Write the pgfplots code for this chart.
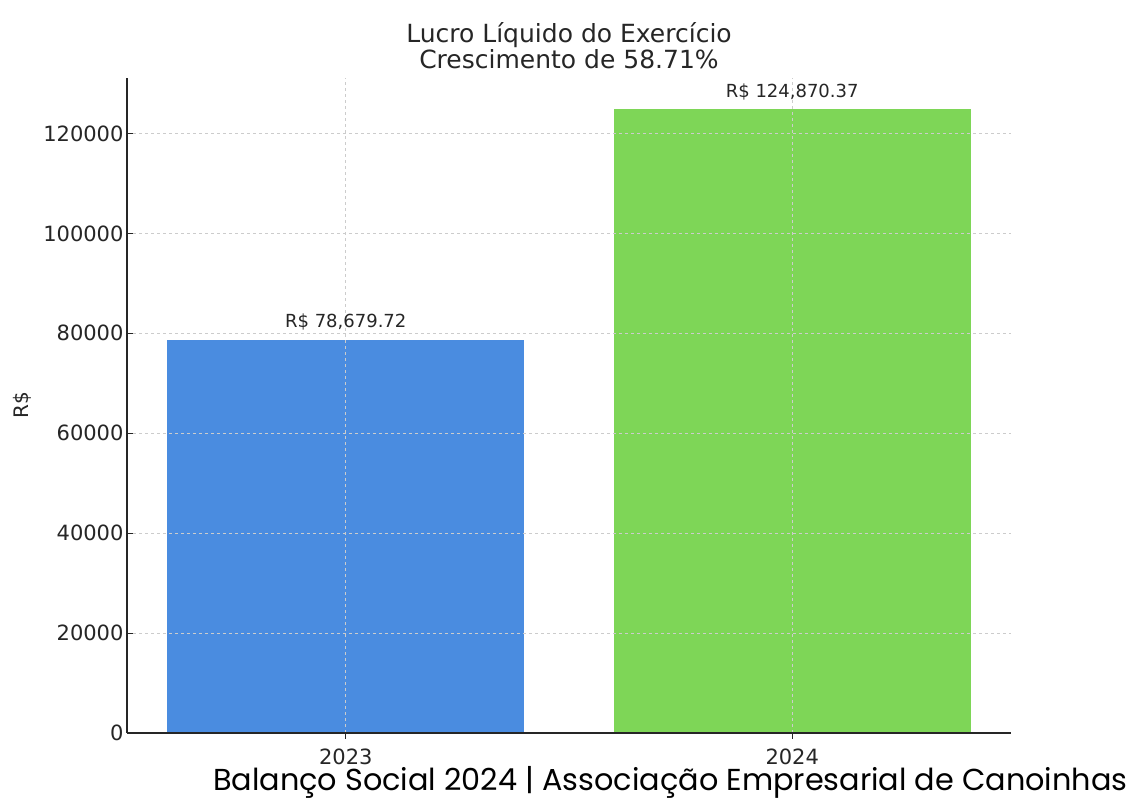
\documentclass[border=0pt]{standalone}
\usepackage{fontspec}
\setmainfont{DejaVu Sans}
\newfontfamily\poppins{Poppins}
\usepackage{pgfplots}
\pgfplotsset{compat=1.18}
\definecolor{barblue}{HTML}{4A8CE0}
\definecolor{bargreen}{HTML}{7ED657}
\definecolor{gridc}{HTML}{CCCCCC}
\begin{document}
\begin{tikzpicture}[x=1pt,y=1pt]
\useasboundingbox (0,0) rectangle (1133,800);
\fill[white] (0,0) rectangle (1133,800);
\begin{axis}[
  at={(127pt,67pt)}, anchor=south west,
  scale only axis, width=884pt, height=655pt,
  xmin=-0.49, xmax=1.49, ymin=0, ymax=131114,
  xtick={0,1}, xticklabels={2023,2024},
  ytick={0,20000,40000,60000,80000,100000,120000},
  scaled y ticks=false,
  /pgf/number format/fixed,
  /pgf/number format/1000 sep={},
  /pgf/number format/assume math mode=true,
  tick label style={font=\fontsize{21}{25}\selectfont, text=black!85},
  axis x line*=bottom, axis y line*=left,
  axis line style={black!85, line width=1.3pt},
  tick style={black!85, line width=1pt},
  major tick length=6pt,
  tick align=inside,
  grid=major,
  major grid style={gridc, dashed, line width=0.8pt},
  axis on top,
  ylabel={R\$},
  ylabel style={font=\fontsize{20}{23}\selectfont, text=black!85, at={(axis description cs:0,0.5)}, anchor=south, yshift=92pt},
  xticklabel style={yshift=-6pt},
  nodes near coords,
  nodes near coords style={font=\fontsize{18}{21}\selectfont, text=black!85, anchor=south, yshift=6pt},
  point meta=explicit symbolic,
  ybar, bar width=0.8, bar shift=0pt,
  clip=false,
]
\addplot[fill=barblue, draw=none] coordinates {(0,78679.72) [R\$ 78,679.72]};
\addplot[fill=bargreen, draw=none] coordinates {(1,124870.37) [R\$ 124,870.37]};
\end{axis}
\node[font=\fontsize{25}{26}\selectfont, text=black!85, align=center] at (569,754) {Lucro Líquido do Exercício\\Crescimento de 58.71\%};
\node[font=\poppins\fontsize{30.3}{34}\selectfont, anchor=east] at (1131,18) {Balanço Social 2024 | Associação Empresarial de Canoinhas};
\end{tikzpicture}
\end{document}
